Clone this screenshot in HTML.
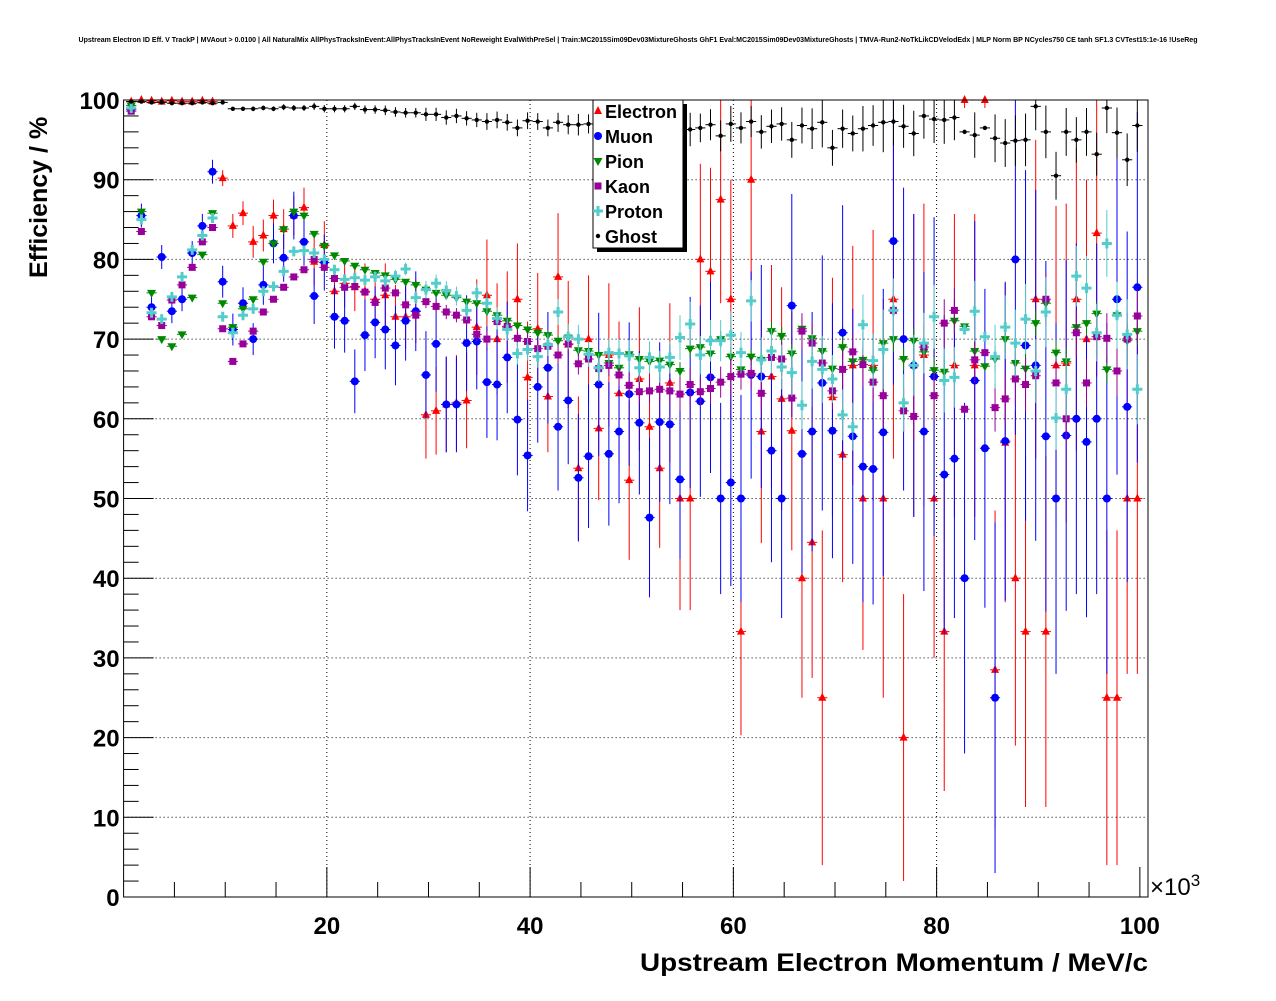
<!DOCTYPE html>
<html><head><meta charset="utf-8"><style>
body{margin:0;background:#fff;}
svg text{font-family:"Liberation Sans",Arial,sans-serif;}
</style></head><body>
<svg id="chart" width="1276" height="996" xmlns="http://www.w3.org/2000/svg">
<text x="638" y="42" font-size="6.9" font-weight="bold" text-anchor="middle" textLength="1119" lengthAdjust="spacingAndGlyphs">Upstream Electron ID Eff. V TrackP | MVAout &gt; 0.0100 | All NaturalMix AllPhysTracksInEvent:AllPhysTracksInEvent NoReweight EvalWithPreSel | Train:MC2015Sim09Dev03MixtureGhosts GhF1 Eval:MC2015Sim09Dev03MixtureGhosts | TMVA-Run2-NoTkLikCDVelodEdx | MLP Norm BP NCycles750 CE tanh SF1.3 CVTest15:1e-16 !UseReg</text>
<g id="grid"></g>
<g id="marks"></g>
<g id="axes"></g>
<text transform="translate(47,278) rotate(-90)" font-size="25" font-weight="bold">Efficiency / %</text>
<text x="1148" y="971" font-size="25" font-weight="bold" text-anchor="end" textLength="508" lengthAdjust="spacingAndGlyphs">Upstream Electron Momentum / MeV/c</text>
<text x="1150" y="895" font-size="24">×10<tspan font-size="17" dy="-9">3</tspan></text>
<g id="legend">
<rect x="597" y="104" width="90" height="148" fill="#000"/>
<rect x="593" y="100" width="90" height="148" fill="#fff" stroke="#000" stroke-width="1"/>
</g>
</svg>
<script>
const categories = Array.from({length:100},(_, i)=>i+0.75);
const electron=[99.8,100,99.9,99.8,99.9,99.8,99.8,99.9,99.8,90.2,84.2,85.8,82.2,83,85.5,83.8,85.5,86.5,79.7,81.8,76,77,76.5,76,75,75.5,72.8,72.8,73.5,60.5,61,61.8,62,62.3,71.5,75.5,70,71.5,75,65.2,71.3,62.8,77.8,69.3,53.8,70,58.8,68,63.2,52.3,65,59,53.8,64.5,50,50,80,78.5,87.5,75,33.3,90,58.4,65.3,62.5,58.5,40,44.5,25,62.7,55.5,66.7,50,66.7,50,75,20,66.7,68,50,33.3,66.7,100,66.7,100,28.5,57,40,33.3,75,33.3,66.7,67,75,70,83.3,25,25,50,50];
const electronErr=[.3,.2,.2,.3,.2,.3,.3,.2,.3,1,1.5,1.5,2,2,2,2.5,2.5,2.5,3,3,3,3,3,3.5,3.5,4,4,4,4,5.5,5.5,6,6,6,6,7,7,7,7,7,7,7,8,8,9,8,9,9,9,10,9,10,10,10,14,14,12,13,13,15,13,13,14,14,14,15,15,17,21,15,16,15,19,17,25,20,18,19,19,20,20,19,1,19,1,20,20,21,22,20,22,20,20,19,20,18,21,21,22,22];
const muon=[98.8,85.5,74,80.3,73.5,75,80.8,84.2,91,77.2,71.2,74.5,70,76.8,82,80.2,85.5,82.2,75.4,79.6,72.8,72.3,64.7,70.5,72.1,71.2,69.2,72.3,73.5,65.5,69.4,61.8,61.8,69.5,69.7,64.6,64.3,67.7,59.9,55.4,64,66.4,59,62.3,52.6,55.3,64.3,55.6,58.4,63.1,59.5,47.6,59.6,59.3,52.4,63.3,62.2,65.2,50,52,50,65.5,65.3,56,50,74.2,55.6,58.4,64.5,58.5,70.8,57.8,54,53.7,58.3,82.3,70,66.7,58.4,65.3,53,55,40,64.8,56.3,25,57.2,80,69.2,66.7,57.8,50,57.9,60,57.1,60,50,75,61.5,76.5];
const muonErr=[.5,1.5,1.5,1.5,1.5,1.5,1.5,1.5,1.5,2,2,2,2,2.5,2.5,3,3,3,3.5,3.5,4,4,4,4.5,4.5,5,5,5,5,5.5,6,6,6,6,6,7,7,7,7,7,7,7,8,8,8,9,9,9,9,9,9,10,10,10,10,12,12,12,12,13,13,13,14,14,15,14,15,15,16,16,16,16,17,17,18,18,19,19,20,20,20,20,22,20,20,22,20,22,22,22,22,22,22,22,22,22,22,22,22,22];
const pion=[99.3,86,75.8,70,69.1,70.6,75.2,80.6,85.8,74.5,71.5,73.8,75,79.7,82,83.8,86,85.5,83.2,81.7,80.5,79.8,79.2,78.7,78.3,78,77.5,77.2,76.8,76.2,75.8,75.5,75.2,74.7,74.5,73.5,73,72.3,71.7,71.2,70.8,70.5,69.8,70.2,68.6,68.5,68,67,66.4,68.1,67.5,67.2,67.3,66.8,66,68.8,69,68.2,70,67.8,66.2,67.8,67.4,71,70.4,68.2,71.3,70.1,68.5,66.3,69,67.2,67.4,66.1,69.5,70,67.5,69.8,68.4,66.1,65.9,72.3,71.6,68.5,66.6,67.5,70,67,66.3,72,74.5,68.3,67.2,71.5,72,73.2,66.2,73,69.8,71];
const kaon=[98.6,83.5,72.8,71.7,74.9,76.8,79,82.2,84,71.3,67.2,69.4,71,73.4,75,76.5,77.8,78.7,80,79,77.6,76.5,76.6,75.9,74.6,76.4,75.8,74.3,73,74.7,74.1,73.4,73,72.4,70.6,70,72.2,71.6,70.1,69.7,68.8,69.1,68,69.4,66.9,67.5,66.3,66.7,65.5,64.2,63.4,63.5,63.7,63.5,63.1,64.3,63.4,63.8,64.6,65.3,65.6,65.7,63.2,67.7,67.5,62.6,71,69.5,67,63.5,66.2,68.4,66.8,64.6,62.9,73.6,61,60.3,69,62.9,72,73.6,61.2,67.4,68.3,61.4,62.5,65,64.3,65.4,75,64.5,60,70.8,64.5,70.3,70.1,66,70,72.9];
const proton=[99,85,73.3,72.5,75.3,77.8,81.2,83,85.2,72.8,70.8,73,73.8,76,76.6,78.5,81,81.1,80.8,80,78.7,77.5,77.7,77.4,77.8,77.3,77.9,78.8,75.2,76.2,77,76.1,75.4,73.6,75.8,74.5,72.6,71.2,68.2,68.7,67.8,69.3,73.4,70.3,70,68.1,66.4,68.3,68.2,67.9,66.4,67.7,66.5,67.7,70.2,71.9,68,69.8,69.8,70.5,68.3,74.8,67.4,68.5,66.5,65.8,61.7,67.2,66.2,65,60.5,59,71.8,67.3,68.7,73.6,62,66.7,69.5,72.8,64.8,65.2,71.2,73.5,70.3,67.8,71.5,69.5,72.5,66,73.4,60.1,63.7,77.9,76.4,70.8,82,73,70.6,63.7];
const ghost=[99.8,99.8,99.7,99.7,99.6,99.6,99.6,99.7,99.6,99.7,98.9,98.9,98.9,99,98.9,99.1,99,99,99.2,98.9,98.9,98.9,99.2,98.8,98.8,98.7,98.5,98.4,98.4,98.2,98.2,97.8,98,97.7,97.5,97.3,97.5,97.2,96.5,97.4,97.3,96.5,97.2,96.9,96.9,97,97.4,97.2,97.2,97.5,96.2,95.5,96.5,96.4,96.8,96.3,96.5,96.9,95.5,97,96.5,97.3,96,96.7,97,95,96.8,96.4,97.2,94,96.4,95.8,96.4,96.8,97.2,97.3,96.7,95.8,98,97.6,97.5,97.8,96,95.6,96.5,95.2,94.6,94.9,95,99.2,96,90.5,96,95,96,93.2,99,95.9,92.5,96.8];
const yTicks=[0,10,20,30,40,50,60,70,80,90,100];
const xTicks=[20,40,60,80,100];

const X0=123.6,X1=1148,Y0=897,Y1=100,xmin=0,xmax=100.8,ymin=0,ymax=100;
const xs=v=>X0+(v-xmin)/(xmax-xmin)*(X1-X0);
const ys=v=>Y0-(v-ymin)/(ymax-ymin)*(Y0-Y1);
const NS="http://www.w3.org/2000/svg";
function mk(parent,tag,attrs){const e=document.createElementNS(NS,tag);for(const k in attrs)e.setAttribute(k,attrs[k]);parent.appendChild(e);return e;}
const grid=document.getElementById('grid'),marks=document.getElementById('marks'),axes=document.getElementById('axes');
yTicks.forEach(t=>{if(t>0&&t<100){const l=mk(grid,'line',{x1:X0,x2:X1,y1:ys(t),y2:ys(t),stroke:'#000','stroke-dasharray':'1,3','stroke-width':1});

}});
xTicks.forEach(t=>{if(t<100){const l=mk(grid,'line',{x1:xs(t),x2:xs(t),y1:Y0,y2:Y1,stroke:'#000','stroke-dasharray':'1,3','stroke-width':1});

}});
mk(axes,'rect',{x:X0,y:Y1,width:X1-X0,height:Y0-Y1,fill:'none',stroke:'#000','stroke-width':1});
yTicks.forEach(t=>{mk(axes,'line',{x1:X0,x2:X0+30,y1:ys(t),y2:ys(t),stroke:'#000'});
const tx=mk(axes,'text',{x:X0-4,y:ys(t)+9,'font-size':24,'font-weight':'bold','text-anchor':'end'});tx.textContent=t;

});
for(let v=2;v<100;v+=2){if(v%10)mk(axes,'line',{x1:X0,x2:X0+15,y1:ys(v),y2:ys(v),stroke:'#000'});}
xTicks.forEach(t=>{mk(axes,'line',{x1:xs(t),x2:xs(t),y1:Y0,y2:Y0-30,stroke:'#000'});
const tx=mk(axes,'text',{x:xs(t),y:Y0+37,'font-size':24,'font-weight':'bold','text-anchor':'middle'});tx.textContent=t;

});
for(let v=5;v<100;v+=5){if(v%20)mk(axes,'line',{x1:xs(v),x2:xs(v),y1:Y0,y2:Y0-15,stroke:'#000'});}

function marker(g,type,cx,cy,col){
 if(type==='tri')mk(g,'polygon',{points:`${cx},${cy-5} ${cx-4},${cy+3} ${cx+4},${cy+3}`,fill:col});
 else if(type==='circ')mk(g,'circle',{cx:cx,cy:cy,r:4,fill:col});
 else if(type==='tdown')mk(g,'polygon',{points:`${cx},${cy+5} ${cx-4.5},${cy-3} ${cx+4.5},${cy-3}`,fill:col});
 else if(type==='sq')mk(g,'rect',{x:cx-3.5,y:cy-3.5,width:7,height:7,fill:col});
 else if(type==='cross')mk(g,'path',{d:`M${cx-1.5},${cy-5}h3v3.5h3.5v3h-3.5v3.5h-3v-3.5h-3.5v-3h3.5z`,fill:col});
 else mk(g,'circle',{cx:cx,cy:cy,r:2.2,fill:col});
}
const series=[
 {name:'Electron',vals:electron,err:electronErr,col:'#ff0000',type:'tri',es:1},
 {name:'Muon',vals:muon,err:muonErr,col:'#0000ff',type:'circ',es:1},
 {name:'Pion',vals:pion,err:electronErr,col:'#008800',type:'tdown',es:0.08},
 {name:'Kaon',vals:kaon,err:electronErr,col:'#990099',type:'sq',es:0.15},
 {name:'Proton',vals:proton,err:electronErr,col:'#55cccc',type:'cross',es:0.2},
 {name:'Ghost',vals:ghost,err:electronErr,col:'#000000',type:'dot',es:0.15}
];
series.forEach((s,si)=>{
 const g=mk(marks,'g',{});
 
 
 categories.forEach((c,i)=>{
  const v=s.vals[i];if(v==null)return;
  const cx=xs(c),cy=ys(v),e=s.err[i]*s.es;
  mk(g,'line',{x1:xs(c-0.5),x2:xs(c+0.5),y1:cy,y2:cy,stroke:s.col,'stroke-width':1});
  mk(g,'line',{x1:cx,x2:cx,y1:ys(Math.min(100,v+e)),y2:ys(Math.max(0,v-e)),stroke:s.col,'stroke-width':1});
  marker(g,s.type,cx,cy,s.col);
 });
 const lg=document.getElementById('legend');
 const ly=111+si*25;
 marker(lg,s.type,598,ly,s.col);
 const t=mk(lg,'text',{x:605,y:ly+7,'font-size':18,'font-weight':'bold'});t.textContent=s.name;
 
 
});
</script>
</body></html>
